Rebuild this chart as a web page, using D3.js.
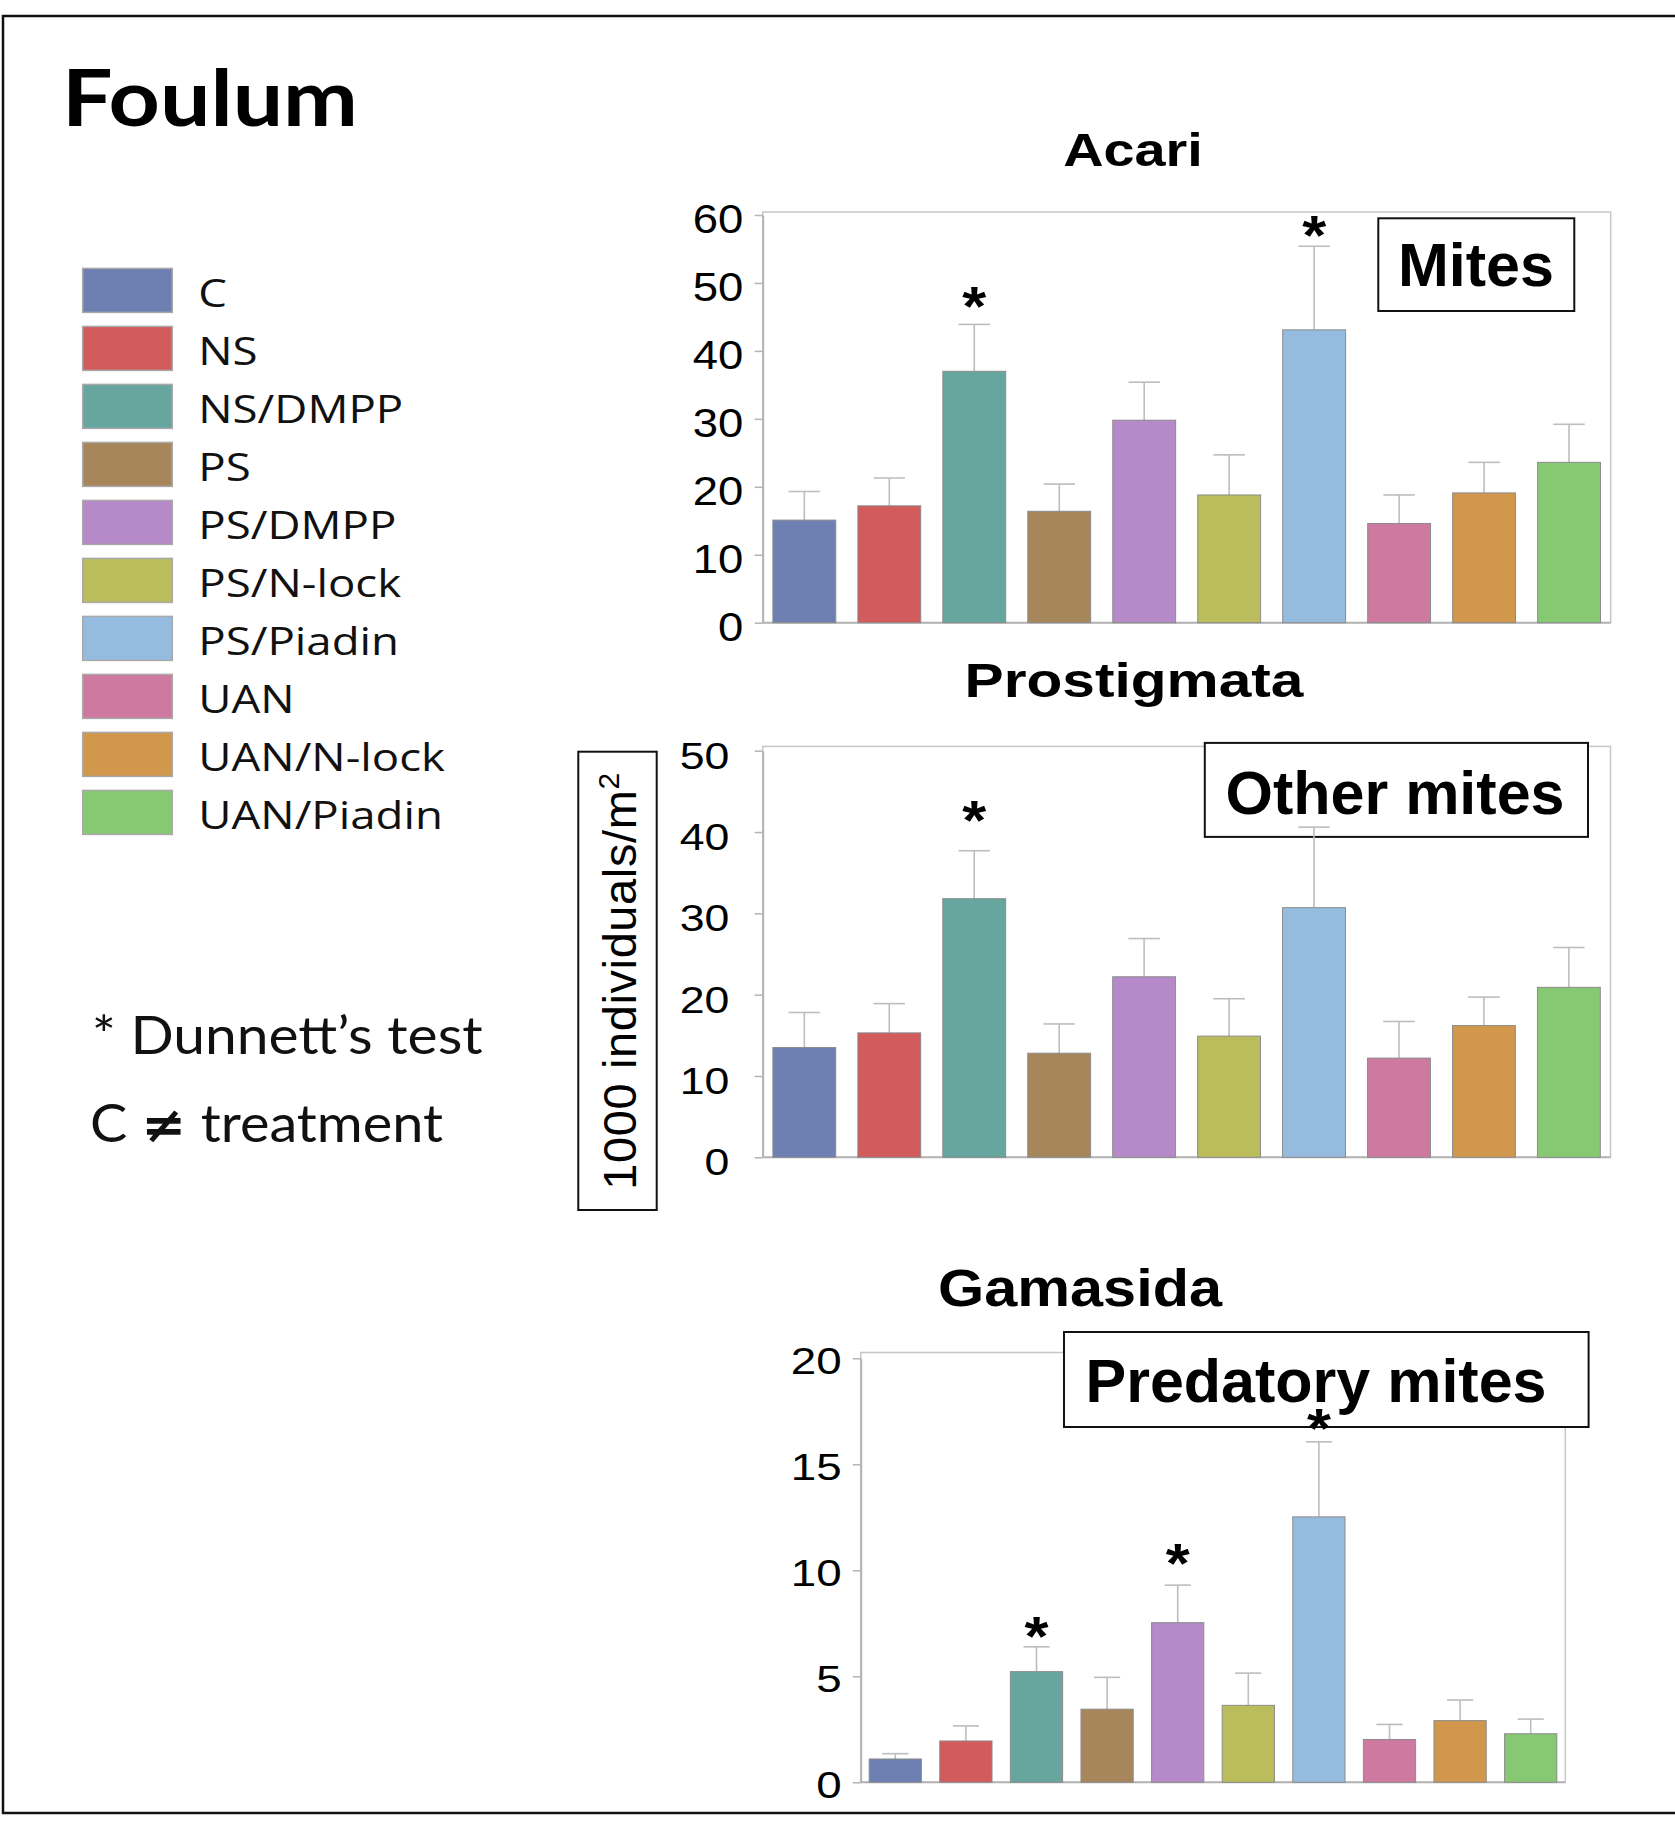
<!DOCTYPE html>
<html>
<head>
<meta charset="utf-8">
<script src="https://cdn.jsdelivr.net/npm/d3@7"></script>
<style>
  body { margin: 0; background: #fff; }
  svg { display: block; }
</style>
</head>
<body>
<svg id="fig" width="1675" height="1843"></svg>
<script>
// ---- data -------------------------------------------------------------
const treatments = ["C", "NS", "NS/DMPP", "PS", "PS/DMPP", "PS/N-lock", "PS/Piadin", "UAN", "UAN/N-lock", "UAN/Piadin"];
const treatmentColors = ["#6e7fb2", "#d25b5b", "#66a69f", "#a8865c", "#b689c9", "#bbbc5b", "#95bbdf", "#ce799f", "#d0974d", "#87c873"];

// Acari (all mites), 1000 individuals per m2: mean and standard error
const acariMean = [15.1, 17.2, 37.0, 16.4, 29.8, 18.8, 43.1, 14.6, 19.1, 23.6];
const acariSE   = [4.2, 4.1, 6.9, 4.0, 5.6, 5.9, 12.3, 4.2, 4.5, 5.6];
const acariTicks = [0, 10, 20, 30, 40, 50, 60];
const acariSig = ["NS/DMPP", "PS/Piadin"];
const acariSigLevel = [47.8, 58.3];

// Prostigmata (other mites)
const prostMean = [13.5, 15.3, 31.8, 12.8, 22.2, 14.9, 30.7, 12.2, 16.2, 20.9];
const prostSE   = [4.3, 3.6, 5.9, 3.6, 4.7, 4.6, 9.9, 4.5, 3.5, 4.9];
const prostTicks = [0, 10, 20, 30, 40, 50];
const prostSig = ["NS/DMPP"];
const prostSigLevel = [42.5];

// Gamasida (predatory mites)
const gamaMean = [1.1, 1.95, 5.22, 3.45, 7.53, 3.63, 12.52, 2.02, 2.91, 2.29];
const gamaSE   = [0.25, 0.71, 1.17, 1.5, 1.77, 1.52, 3.54, 0.71, 0.97, 0.69];
const gamaTicks = [0, 5, 10, 15, 20];
const gamaSig = ["NS/DMPP", "PS/DMPP", "PS/Piadin"];
const gamaSigLevel = [7.3, 10.7, 17.1];

const siteName = "Foulum";
const yAxisLabel = "1000 individuals/m";

// ---- layout -----------------------------------------------------------
const ARIAL = "'Liberation Sans', Arial, sans-serif";
const SANS = "Lato, 'Open Sans', sans-serif";
const LEGEND_FONT = "'Open Sans', Lato, sans-serif";

const panels = [
  { title: "Acari", group: "Mites", mean: acariMean, se: acariSE, ticks: acariTicks, sig: acariSig, sigLevel: acariSigLevel,
    left: 762.7, right: 1610.7, frameTop: 212, base: 622.7, topPx: 215,
    titleX: 1133, titleY: 166, titleSize: 46.5, titleStretch: 1.2,
    tickFont: 41, tickStretch: 1.11, tickGap: 19.4, tickShift: 3,
    box: { x: 1378.3, y: 218.3, w: 196, h: 92.7, tx: 1476, ty: 286 } },
  { title: "Prostigmata", group: "Other mites", mean: prostMean, se: prostSE, ticks: prostTicks, sig: prostSig, sigLevel: prostSigLevel,
    left: 762.7, right: 1610.5, frameTop: 746.4, base: 1157.3, topPx: 750.7,
    titleX: 1134, titleY: 697, titleSize: 47.5, titleStretch: 1.235,
    tickFont: 37.5, tickStretch: 1.19, tickGap: 33.4, tickShift: 4,
    box: { x: 1204.8, y: 742.9, w: 383.2, h: 94, tx: 1395, ty: 814 } },
  { title: "Gamasida", group: "Predatory mites", mean: gamaMean, se: gamaSE, ticks: gamaTicks, sig: gamaSig, sigLevel: gamaSigLevel,
    left: 860.7, right: 1565.3, frameTop: 1352.5, base: 1782.3, topPx: 1358.3,
    titleX: 1080, titleY: 1306, titleSize: 51, titleStretch: 1.165,
    tickFont: 37.5, tickStretch: 1.22, tickGap: 19, tickShift: 2,
    box: { x: 1064, y: 1332, w: 524.6, h: 95, tx: 1316, ty: 1402 } }
];

const svg = d3.select("#fig");
const color = d3.scaleOrdinal(treatments, treatmentColors);

// outer frame (right edge runs past the page)
svg.append("rect")
  .attr("x", 3).attr("y", 16).attr("width", 1720).attr("height", 1797)
  .attr("fill", "none").attr("stroke", "#111").attr("stroke-width", 2.5);

// site name
svg.append("text")
  .attr("x", 62).attr("y", 126)
  .attr("font-family", SANS).attr("font-weight", 700).attr("font-size", 78)
  .attr("textLength", 296).attr("lengthAdjust", "spacingAndGlyphs")
  .attr("fill", "#000")
  .text(siteName);

// ---- panels -----------------------------------------------------------
panels.forEach(p => {
  const g = svg.append("g");
  const yMax = p.ticks[p.ticks.length - 1];
  const x = d3.scaleBand(treatments, [p.left, p.right]).paddingInner(0.26).paddingOuter(0.12);
  const y = d3.scaleLinear([0, yMax], [p.base, p.topPx]);

  // plot frame
  g.append("rect")
    .attr("x", p.left).attr("y", p.frameTop)
    .attr("width", p.right - p.left).attr("height", p.base - p.frameTop)
    .attr("fill", "none").attr("stroke", "#c6c6c6").attr("stroke-width", 1.5);

  // group label box (sits under the bars' annotations)
  g.append("rect")
    .attr("x", p.box.x).attr("y", p.box.y).attr("width", p.box.w).attr("height", p.box.h)
    .attr("fill", "#fff").attr("stroke", "#111").attr("stroke-width", 2);
  g.append("text")
    .attr("x", p.box.tx).attr("y", p.box.ty)
    .attr("text-anchor", "middle")
    .attr("font-family", ARIAL).attr("font-weight", 700).attr("font-size", 61)
    .attr("fill", "#000")
    .text(p.group);

  // y axis
  const ax = g.append("g")
    .attr("transform", `translate(${p.left},0)`)
    .call(d3.axisLeft(y).tickValues(p.ticks).tickSize(8).tickSizeOuter(0));
  ax.select(".domain").attr("stroke", "#b4b4b4").attr("stroke-width", 2);
  ax.selectAll(".tick line").attr("stroke", "#b4b4b4").attr("stroke-width", 1.5);
  ax.selectAll(".tick text")
    .attr("font-family", ARIAL).attr("font-size", p.tickFont).attr("fill", "#000")
    .attr("text-anchor", "end")
    .attr("dy", null)
    .attr("y", p.tickShift + 0.358 * p.tickFont)
    .attr("x", -p.tickGap / p.tickStretch)
    .attr("transform", `scale(${p.tickStretch},1)`);

  // x baseline
  g.append("line")
    .attr("x1", p.left).attr("x2", p.right).attr("y1", p.base).attr("y2", p.base)
    .attr("stroke", "#b4b4b4").attr("stroke-width", 2);

  const rows = treatments.map((t, i) => ({ t, m: p.mean[i], se: p.se[i] }));

  // error bars (upper half only)
  const eb = g.append("g").attr("stroke", "#bdbdbd").attr("stroke-width", 1.6);
  const cap = x.bandwidth() * 0.25;
  rows.forEach(d => {
    const cx = x(d.t) + x.bandwidth() / 2;
    eb.append("line").attr("x1", cx).attr("x2", cx).attr("y1", y(d.m)).attr("y2", y(d.m + d.se));
    eb.append("line").attr("x1", cx - cap).attr("x2", cx + cap).attr("y1", y(d.m + d.se)).attr("y2", y(d.m + d.se));
  });

  // bars
  g.append("g").selectAll("rect").data(rows).join("rect")
    .attr("x", d => x(d.t)).attr("width", x.bandwidth())
    .attr("y", d => y(d.m)).attr("height", d => y(0) - y(d.m))
    .attr("fill", d => color(d.t))
    .attr("stroke", "#8c8c8c").attr("stroke-width", 1);

  // significance stars
  p.sig.forEach((t, i) => {
    const cx = x(t) + x.bandwidth() / 2;
    g.append("text")
      .attr("transform", `translate(${cx},${y(p.sigLevel[i]) + 27}) scale(1.1,1)`)
      .attr("text-anchor", "middle")
      .attr("font-family", ARIAL).attr("font-weight", 700).attr("font-size", 56)
      .attr("fill", "#000")
      .text("*");
  });

  // panel title
  g.append("text")
    .attr("transform", `translate(${p.titleX},${p.titleY}) scale(${p.titleStretch},1)`)
    .attr("text-anchor", "middle")
    .attr("font-family", ARIAL).attr("font-weight", 700).attr("font-size", p.titleSize)
    .attr("fill", "#000")
    .text(p.title);
});

// ---- shared y-axis label ---------------------------------------------
svg.append("rect")
  .attr("x", 578.3).attr("y", 751.7).attr("width", 78.4).attr("height", 458.3)
  .attr("fill", "none").attr("stroke", "#111").attr("stroke-width", 2);
const yl = svg.append("text")
  .attr("transform", "translate(636,981) rotate(-90)")
  .attr("text-anchor", "middle")
  .attr("font-family", ARIAL).attr("font-size", 47).attr("letter-spacing", 0.6).attr("fill", "#000");
yl.append("tspan").text(yAxisLabel);
yl.append("tspan").attr("font-size", 30).attr("dy", -17).text("2");

// ---- legend -----------------------------------------------------------
const leg = svg.append("g");
const legRow = 58;
const legTop = i => 268.4 + i * legRow;
treatments.forEach((t, i) => {
  leg.append("rect")
    .attr("x", 82.7).attr("y", legTop(i)).attr("width", 89.6).attr("height", 44)
    .attr("fill", color(t)).attr("stroke", "#a9a9a9").attr("stroke-width", 1.5);
  leg.append("text")
    .attr("class", "leglab")
    .attr("transform", `translate(198.3,${legTop(i) + 38.2})`)
    .attr("font-family", LEGEND_FONT).attr("font-size", 38).attr("fill", "#111")
    .text(t);
});
// the legend type is set wide: stretch all labels by one common factor
const labNodes = leg.selectAll(".leglab").nodes();
const natural = labNodes[2].getComputedTextLength();
const legStretch = natural > 0 ? 205 / natural : 1.15;
labNodes.forEach((n, i) => {
  d3.select(n).attr("transform", `translate(198.3,${legTop(i) + 38.2}) scale(${legStretch},1)`);
});

// ---- test note ----------------------------------------------------------
svg.append("text")
  .attr("x", 91.7).attr("y", 1054)
  .attr("font-family", SANS).attr("font-size", 52).attr("fill", "#111")
  .attr("textLength", 391).attr("lengthAdjust", "spacingAndGlyphs")
  .text("* Dunnett\u2019s test");
const note2 = svg.append("text")
  .attr("x", 90).attr("y", 1141.7)
  .attr("font-family", SANS).attr("font-size", 52).attr("fill", "#111")
  .attr("textLength", 353).attr("lengthAdjust", "spacingAndGlyphs");
note2.append("tspan").text("C ");
note2.append("tspan").attr("font-family", "'DejaVu Sans', sans-serif").attr("font-weight", 700).attr("font-size", 50).text("\u2260");
note2.append("tspan").text(" treatment");
</script>
</body>
</html>
